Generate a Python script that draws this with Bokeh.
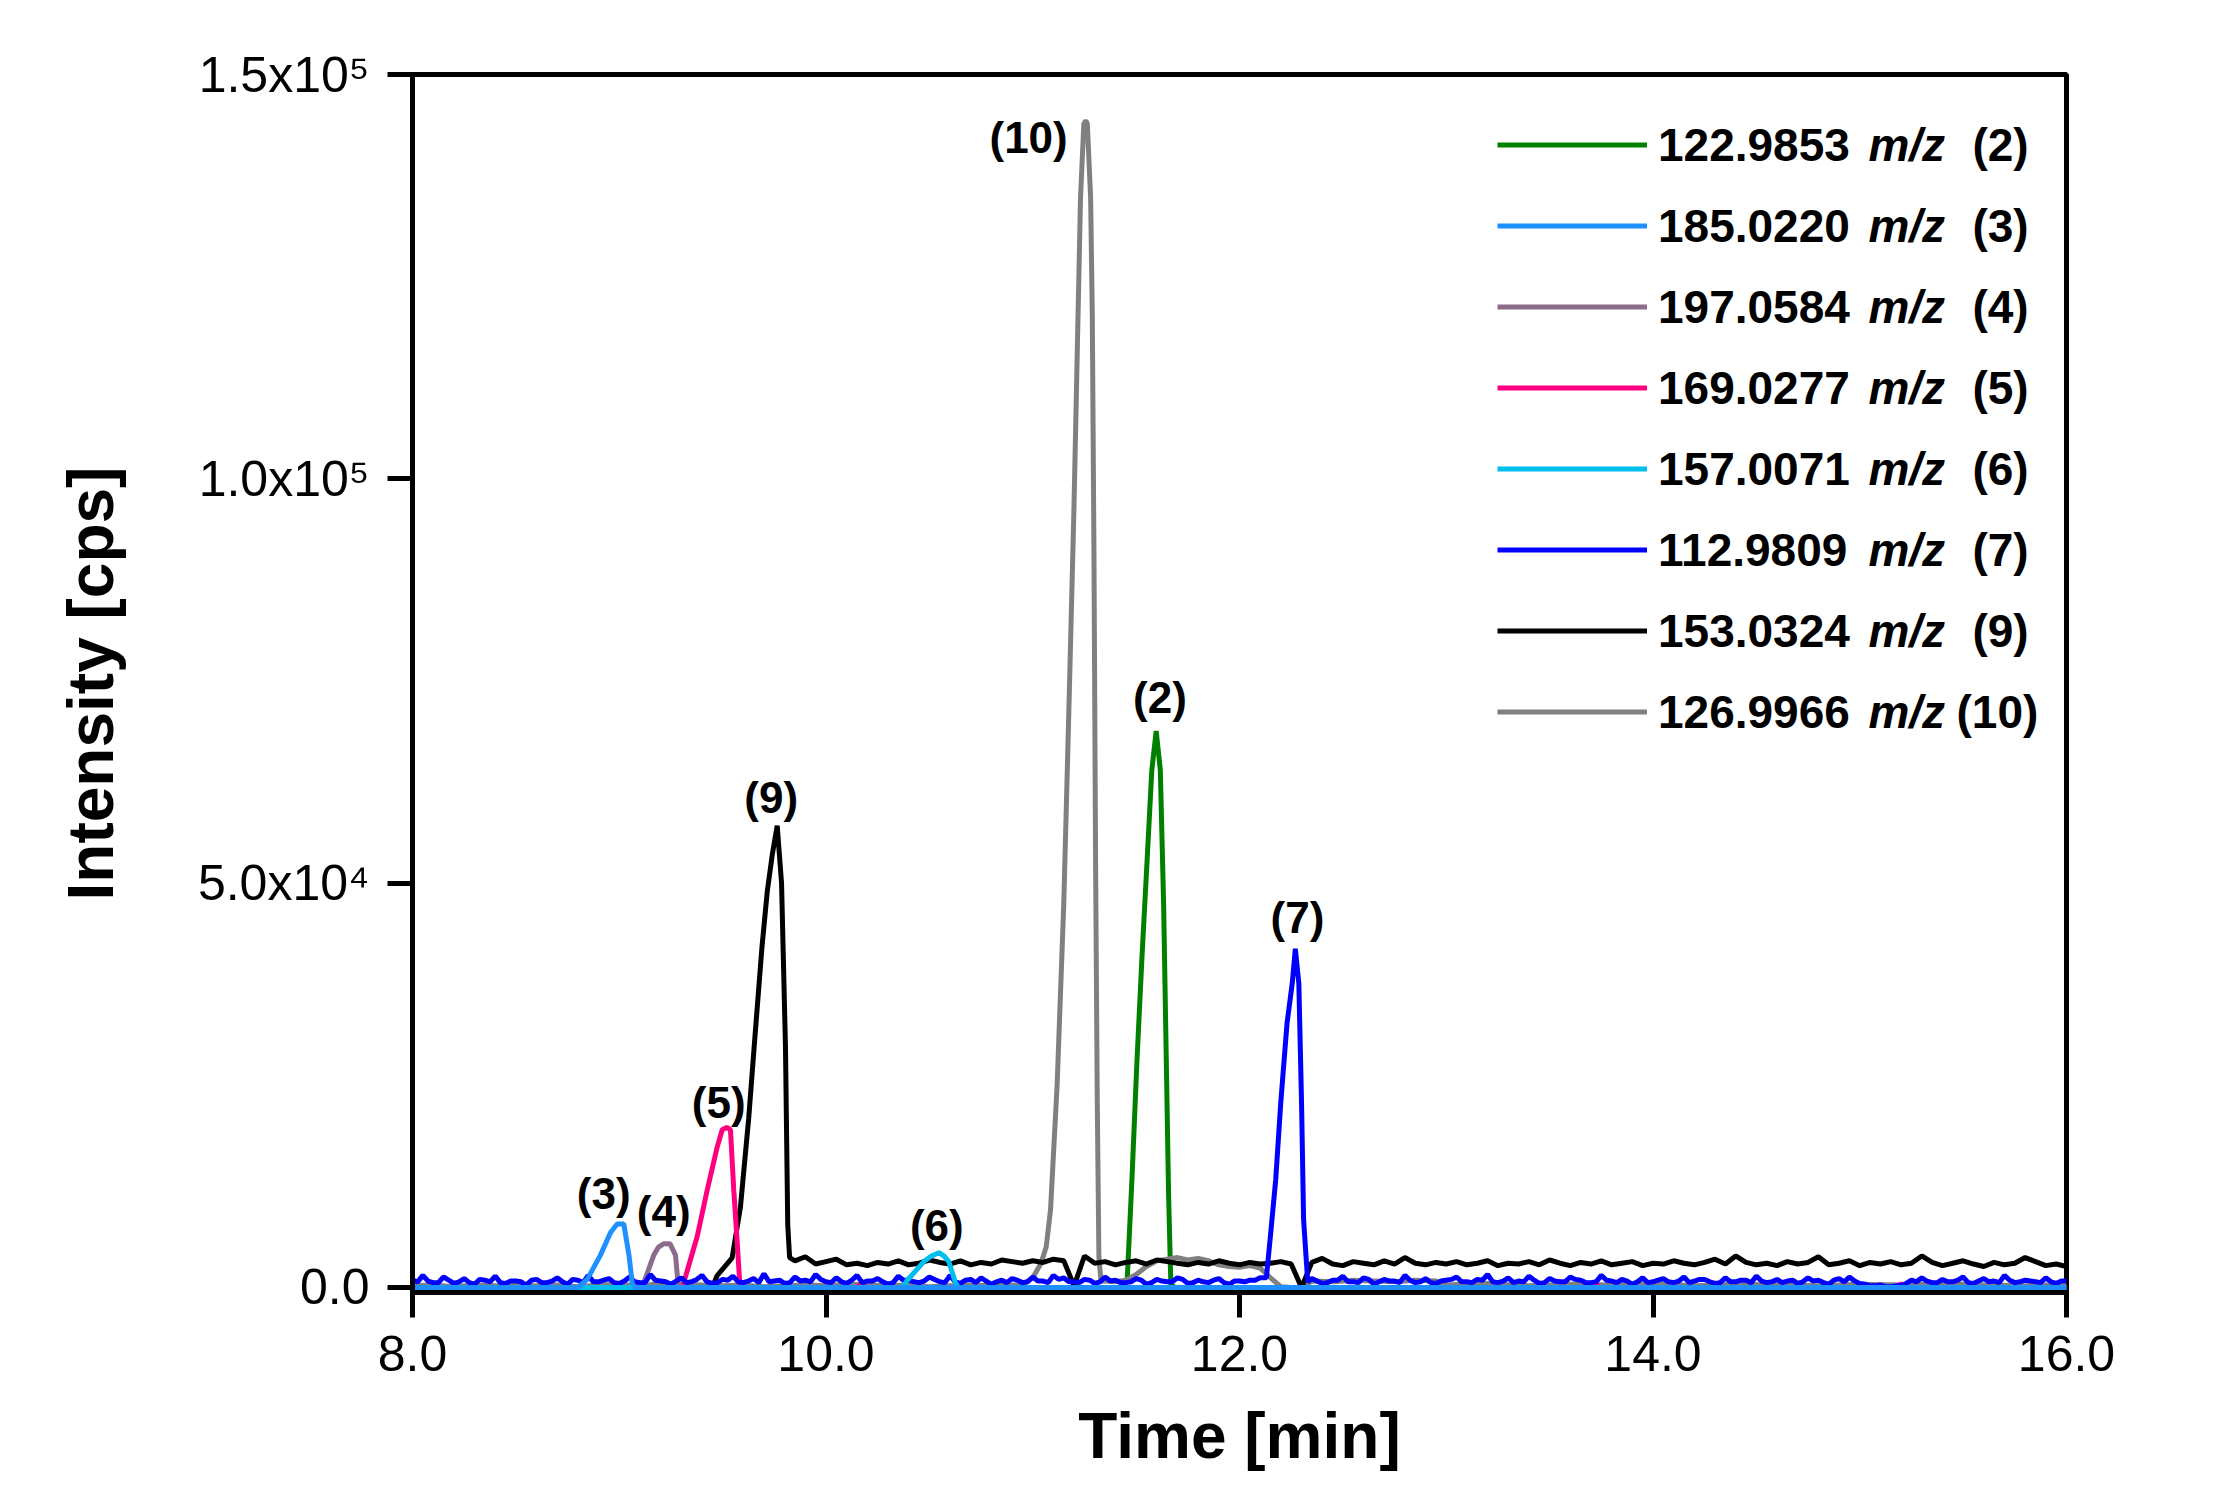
import numpy as np
from bokeh.plotting import figure
from bokeh.models import Range1d, FixedTicker, Legend, LegendItem, Label
from bokeh.core.properties import value
from bokeh.embed import file_html
from bokeh.resources import INLINE

FONT = "Liberation Sans"

# ---------------- data ----------------
legend_mz = ["122.9853", "185.0220", "197.0584", "169.0277",
             "157.0071", "112.9809", "153.0324", "126.9966"]
legend_ids = ["(2)", "(3)", "(4)", "(5)", "(6)", "(7)", "(9)", "(10)"]
colors = ["#008000", "#1E90FF", "#8C6C8C", "#FF0080",
          "#00BFEF", "#0000FF", "#000000", "#808080"]

# (2) 122.9853 m/z - green
t2 = [8.0, 11.43, 11.457, 11.48, 11.504, 11.528, 11.552, 11.576, 11.597,
      11.617, 11.633, 11.646, 11.657, 11.668, 11.69, 16.0]
i2 = [0, 0, 1000, 13500, 28000, 40700, 52300, 64000, 68800,
      64000, 47400, 28000, 11500, 300, 0, 0]

# (3) 185.0220 m/z - light blue
t3 = [8.0, 8.80, 8.845, 8.909, 8.958, 8.99, 9.022, 9.047, 9.063, 9.075, 16.0]
i3 = [0, 0, 1000, 4000, 6800, 7850, 7850, 4000, 500, 0, 0]

# (4) 197.0584 m/z - mauve
t4 = [8.0, 9.10, 9.119, 9.167, 9.19, 9.214, 9.246, 9.272, 9.284, 9.295, 16.0]
i4 = [0, 0, 600, 4000, 5000, 5400, 5400, 4000, 600, 0, 0]

# (5) 169.0277 m/z - magenta
t5 = [8.0, 9.30, 9.312, 9.377, 9.425, 9.473, 9.498, 9.52, 9.538, 9.554, 9.571,
      9.583, 9.595, 10.15, 10.17, 10.19, 13.70, 13.72, 13.74, 15.18, 15.20, 15.22, 16.0]
i5 = [0, 0, 600, 6300, 12000, 17300, 19500, 19800, 19500, 12000, 5400,
      500, 0, 0, 500, 0, 0, 600, 0, 0, 500, 0, 0]

# (6) 157.0071 m/z - cyan
t6 = [8.0, 10.37, 10.39, 10.473, 10.51, 10.546, 10.57, 10.594, 10.626, 10.64, 16.0]
i6 = [0, 0, 800, 3200, 3900, 4300, 3900, 3200, 600, 0, 0]

# (7) 112.9809 m/z - blue: noisy baseline read every 0.05 min plus the values
# in between, then the peak
i7_base_a = [900, 1500, 600, 1300, 500, 1100, 400, 900, 1400, 500, 800, 300, 1000, 600,
             1200, 400, 900, 1500, 700, 1100, 500,
             1300, 600, 1600, 800, 400, 1200, 700, 1500, 500, 1000, 1400, 600, 1100, 1700,
             800, 500, 1300, 900, 1600, 700,
             1200, 500, 1500, 800, 1100, 400, 1400, 900, 600, 1300, 700, 1500, 500, 1000,
             1200, 400, 900, 1100, 600, 1300,
             800, 1500, 1200, 700, 1000, 500, 1300, 900, 600, 1100, 400, 1000, 700, 1200,
             500, 900, 600, 1100, 400, 800, 900, 1200]            # 8.00 .. 12.10
i7_mid_a = [700, 800, 600, 900, 700, 600, 1000, 700, 600, 800,
            700, 900, 600, 800, 700, 1000, 600, 700, 900, 600,
            800, 700, 600, 900, 700, 800, 600, 1000, 700, 600,
            900, 700, 800, 600, 700, 900, 600, 800, 700, 1000,
            600, 700, 900, 600, 800, 700, 600, 900, 700, 800,
            1000, 600, 700, 900, 600, 800, 700, 600, 900, 700,
            800, 600, 1000, 700, 600, 900, 700, 800, 600, 700,
            900, 600, 800, 700, 1000, 600, 700, 900, 600, 800,
            700, 900]                                              # 8.025 .. 12.075
t7_peak = [12.13, 12.15, 12.175, 12.20, 12.23, 12.255, 12.27, 12.287, 12.30, 12.31, 12.33]
i7_peak = [1200, 6500, 13300, 23000, 32700, 37600, 41900, 37600, 23000, 8400, 700]
i7_base_b = [1100, 500, 900, 1400, 700, 1200, 400, 1000, 800, 1500, 600, 1100, 500, 900,
             1300, 700, 1000, 1600, 600, 1200, 800, 1400, 500, 1100, 700, 1300, 900, 600,
             1500, 800, 1000, 400, 1200, 700,
             1100, 600, 1300, 800, 1000, 500, 1200, 700, 900, 1400, 600, 1000, 800, 500,
             1200, 900, 400, 1100, 1300, 500,
             200, 300, 100, 200, 900, 1200, 600, 1000, 700, 1300, 500, 1100, 800, 1500,
             600, 900, 700, 1200, 500, 800]                       # 12.35 .. 16.00
i7_mid_b = [800, 600, 900, 700, 600, 1000, 700, 800, 600, 900,
            700, 600, 800, 1000, 700, 600, 900, 700, 800, 600,
            700, 900, 600, 800, 700, 1000, 600, 700, 900, 600,
            800, 700, 600, 900, 700, 800, 600, 1000, 700, 600,
            700, 900, 600, 800, 700, 600, 900, 700, 800, 600,
            900, 700, 800, 400, 200, 100, 200, 500, 700, 800,
            600, 700, 900, 600, 800, 700, 600, 900, 700, 800,
            600, 700, 800]                                         # 12.375 .. 15.975

# (9) 153.0324 m/z - black
t9_peak = [8.0, 9.45, 9.473, 9.546, 9.586, 9.626, 9.659, 9.69, 9.716, 9.74, 9.764,
           9.785, 9.804, 9.815, 9.824]
i9_peak = [0, 0, 1450, 3660, 9900, 20900, 31900, 42000, 49000, 53500, 57100,
           50000, 29700, 7700, 3700]
i9_base = [3300, 3800, 2900, 3200, 3500, 2800, 3000, 2700, 3100, 2900, 3300, 2800,
           3000, 3400, 3100, 2900, 3300, 2800, 3100, 2900, 3400, 3200, 3000, 3300,
           3100, 3500, 3300, 200, 3900, 3000, 3200, 2800, 3100, 3300,
           2900, 3400, 3200, 3000, 2800, 3100, 2900, 3300, 3000, 2800, 3100, 2900,
           3000, 3200, 2900, 0,
           3100, 3600, 2900, 2700, 3200, 3000, 2800, 3300, 2900, 3700, 3000, 2800, 3100, 2900,
           3200, 2800, 3000, 3300, 2700, 3000, 2900, 3200, 2800, 3400, 3000, 2700, 3100,
           2900, 3300, 2800, 3000, 3200, 2700, 3000,
           2900, 3300, 3000, 2800, 3100, 3500, 2900, 3900, 3100, 2800, 3000, 2700, 3200,
           2900, 3100, 3800, 2800, 3000, 3300, 2700,
           3100, 2900, 3200, 2800, 3000, 3900, 3100, 2700, 3000, 3300, 2900, 2600, 3100,
           2800, 3000, 3700, 3200, 2700, 2900, 2600]               # 9.85 .. 16.00

# (10) 126.9966 m/z - gray
i10_pre = [200, 300, 100, 300, 200, 400, 200, 300, 100, 300, 400, 200, 500, 400, 300,
           200, 300, 100, 200, 300, 200, 400, 300, 200, 300, 100, 200, 300, 200, 300]  # 8.0 .. 10.9
t10_peak = [10.95, 11.0, 11.04, 11.065, 11.086, 11.118, 11.15, 11.175, 11.199, 11.215,
            11.231, 11.247, 11.257, 11.264, 11.28, 11.288, 11.296, 11.304, 11.312, 11.32, 11.33]
i10_peak = [300, 1200, 3000, 5000, 9600, 25100, 47400, 71700, 96000, 115300,
            134700, 143900, 144300, 143900, 134700, 120200, 91000, 52300, 23200, 3800, 800]
i10_post_a = [800, 700, 900, 1600, 2600, 3300, 3500, 3700, 3400, 3600, 3300, 2800,
              2600, 2500, 2700, 2400, 1200, 100, 0, 0]             # 11.35 .. 12.30
i10_post_b = [800, 700, 900, 800, 700, 900, 800]                     # 12.35 .. 12.95
i10_post_c = [300, 500, 200, 400, 300, 500, 200, 400, 300, 200, 400, 300, 500, 300, 200, 400]  # 13.0 .. 16.0

# peak annotations
peak_text = ["(10)", "(2)", "(7)", "(9)", "(5)", "(3)", "(4)", "(6)"]
peak_x = [10.98, 11.615, 12.28, 9.735, 9.481, 8.925, 9.215, 10.536]
peak_y = [142200, 72900, 45800, 60600, 22900, 11600, 9400, 7700]

x_ticks = [8, 10, 12, 14, 16]
x_tick_labels = ["8.0", "10.0", "12.0", "14.0", "16.0"]
y_ticks = [0, 50000, 100000, 150000]
y_tick_labels = ["0.0", "5.0x10\u2074", "1.0x10\u2075", "1.5x10\u2075"]


def grid(start, step, n):
    return list(np.round(start + step * np.arange(n), 3))


def interleave(start, step, base, mid):
    ts, ys = [], []
    for j, b in enumerate(base):
        ts.append(round(start + step * j, 3))
        ys.append(b)
        if j < len(mid):
            ts.append(round(start + step * j + step / 2, 3))
            ys.append(mid[j])
    return ts, ys


ta, ya = interleave(8.0, 0.05, i7_base_a, i7_mid_a)
tb, yb = interleave(12.35, 0.05, i7_base_b, i7_mid_b)
t7 = ta + t7_peak + tb
i7 = ya + i7_peak + yb
t9 = t9_peak + grid(9.85, 0.05, len(i9_base))
i9 = i9_peak + i9_base
t10 = (grid(8.0, 0.1, len(i10_pre)) + t10_peak + grid(11.35, 0.05, len(i10_post_a))
       + grid(12.35, 0.1, len(i10_post_b)) + grid(13.0, 0.2, len(i10_post_c)))
i10 = i10_pre + i10_peak + i10_post_a + i10_post_b + i10_post_c

series = {
    "(2)": (t2, i2), "(3)": (t3, i3), "(4)": (t4, i4), "(5)": (t5, i5),
    "(6)": (t6, i6), "(7)": (t7, i7), "(9)": (t9, i9), "(10)": (t10, i10),
}

# ---------------- figure ----------------
Y0, Y1 = -620, 150000
p = figure(width=2218, height=1494, output_backend="svg", toolbar_location=None,
           x_range=Range1d(8, 16), y_range=Range1d(Y0, Y1),
           min_border_left=412, min_border_right=152, min_border_top=74, min_border_bottom=202)
p.background_fill_color = "white"
p.border_fill_color = "white"
p.grid.visible = False
p.outline_line_color = "black"
p.outline_line_width = 5

for ax in (p.xaxis[0], p.yaxis[0]):
    ax.axis_line_width = 5
    ax.major_tick_line_width = 5
    ax.major_tick_out = 25
    ax.major_tick_in = 0
    ax.minor_tick_line_color = None
    ax.major_label_text_font = FONT
    ax.major_label_text_font_size = "50px"
    ax.major_label_text_color = "black"
    ax.major_label_standoff = 18
    ax.axis_label_text_font = FONT
    ax.axis_label_text_font_style = "bold"
    ax.axis_label_text_font_size = "64px"
    ax.axis_label_text_color = "black"

p.xaxis.ticker = FixedTicker(ticks=x_ticks)
p.xaxis.major_label_overrides = dict(zip(x_ticks, x_tick_labels))
p.yaxis.ticker = FixedTicker(ticks=y_ticks)
p.yaxis.major_label_overrides = dict(zip(y_ticks, y_tick_labels))
p.xaxis.axis_label = "Time [min]"
p.yaxis.axis_label = "Intensity [cps]"
p.xaxis.axis_label_standoff = 26
p.yaxis.axis_label_standoff = 68

draw_order = ["(2)", "(10)", "(9)", "(5)", "(4)", "(7)", "(6)", "(3)"]
renderers = {}
for key in draw_order:
    k = legend_ids.index(key)
    t, y = series[key]
    renderers[key] = p.line(t, y, line_color=colors[k], line_width=5)

p.text(x=peak_x, y=peak_y, text=peak_text, text_align="center", text_baseline="middle",
       text_font=value(FONT), text_font_style="bold", text_font_size="44px", text_color="black")

# legend (numbers), italic m/z and ids as separate labels
items = [LegendItem(label=legend_mz[k], renderers=[renderers[legend_ids[k]]])
         for k in range(len(legend_ids))]
ROW = 81
legend = Legend(items=items, location=(1085, 540), orientation="vertical",
                padding=0, spacing=0, margin=0, glyph_width=150, glyph_height=ROW,
                label_height=ROW, label_standoff=11, label_text_font=FONT,
                label_text_font_style="bold", label_text_font_size="46px",
                label_text_color="black", border_line_color=None, background_fill_alpha=0)
p.add_layout(legend)

frame_h = 1218
px_per_unit = frame_h / (Y1 - Y0)
for k in range(len(legend_ids)):
    yrow = Y1 - (70 + ROW * k) / px_per_unit
    p.add_layout(Label(x=15.042, y=yrow, text="m/z", text_font=FONT, text_font_style="bold italic",
                       text_font_size="46px", text_baseline="middle", text_color="black"))
    xid = 15.468 if legend_ids[k] == "(10)" else 15.545
    p.add_layout(Label(x=xid, y=yrow, text=legend_ids[k], text_font=FONT, text_font_style="bold",
                       text_font_size="46px", text_baseline="middle", text_color="black"))

open("out.html", "w").write(file_html(p, INLINE))
